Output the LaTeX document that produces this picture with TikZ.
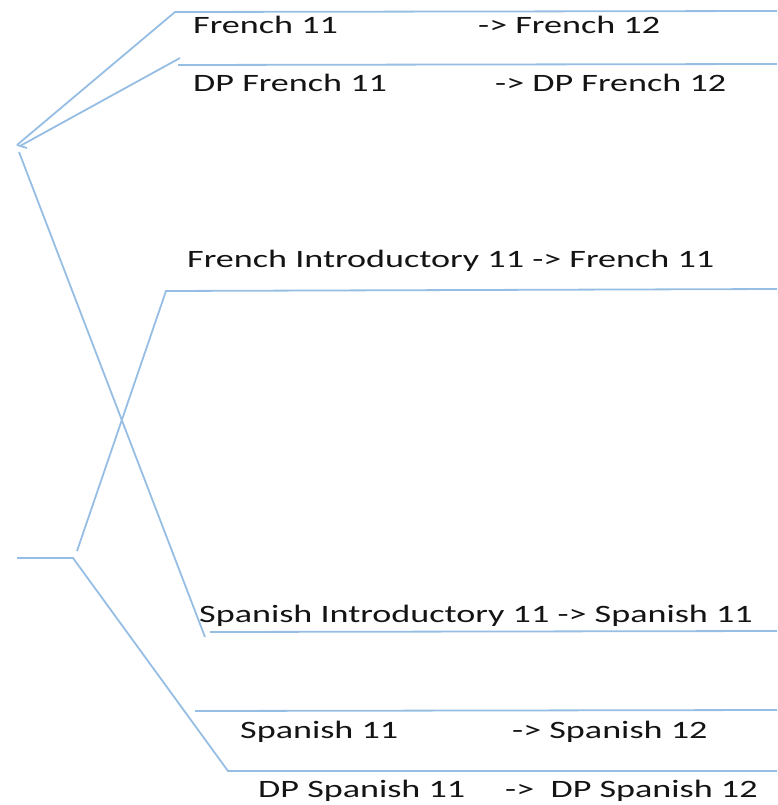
\documentclass[tikz,border=0pt]{standalone}
\usepackage{fontspec}
\setmainfont{Carlito}[FakeStretch=1.445]
\definecolor{branch}{RGB}{150,190,228}
\definecolor{ink}{RGB}{20,20,20}
\begin{document}
\begin{tikzpicture}[x=1pt,y=-1pt,
  br/.style={draw=branch,line width=1.8pt,line join=miter},
  lbl/.style={anchor=base west,inner sep=0pt,text=ink,font=\fontsize{25}{28}\selectfont}]
\useasboundingbox (0,0) rectangle (777,805);
% coordinates
\coordinate (apex) at (17,145);
\coordinate (apexb) at (20,146);
\coordinate (apexc) at (19,152);
\coordinate (f11a) at (175,12);
\coordinate (f11b) at (777,11);
\coordinate (dpf11d) at (180,58);
\coordinate (dpf11a) at (178,65);
\coordinate (dpf11b) at (777,64);
\coordinate (sia) at (205,637);
\coordinate (sib) at (210,632);
\coordinate (sic) at (777,631);
\coordinate (root) at (17,558);
\coordinate (fork) at (73,558);
\coordinate (forku) at (77,551);
\coordinate (fia) at (166,291);
\coordinate (fib) at (777,289);
\coordinate (dpsa) at (228,771);
\coordinate (dpsb) at (777,771);
\coordinate (s11a) at (195,711);
\coordinate (s11b) at (777,710);
% branches
\draw[br] (apex) -- (f11a) -- (f11b);
\draw[br] (apexb) -- (dpf11d);
\draw[br] (dpf11a) -- (dpf11b);
\draw[br] (apex) -- ++(10,3);
\draw[br] (apexc) -- (sia);
\draw[br] (sib) -- (sic);
\draw[br] (root) -- (fork) -- (dpsa) -- (dpsb);
\draw[br] (forku) -- (fia) -- (fib);
\draw[br] (s11a) -- (s11b);
% labels
\node[lbl] (t1) at (193,34) {French 11};
\node[lbl] (t1r) at (478,34) {-> French 12};
\node[lbl] (t2) at (193,92) {DP French 11};
\node[lbl] (t2r) at (495,92) {-> DP French 12};
\node[lbl] (t3) at (187,267) {French Introductory 11 -> French 11};
\node[lbl] (t4) at (199,622) {Spanish Introductory 11 -> Spanish 11};
\node[lbl] (t5) at (240,738) {Spanish 11};
\node[lbl] (t5r) at (512,738) {-> Spanish 12};
\node[lbl] (t6) at (258,797) {DP Spanish 11};
\node[lbl] (t6r) at (505,797) {->\ \ DP Spanish 12};
\end{tikzpicture}
\end{document}
